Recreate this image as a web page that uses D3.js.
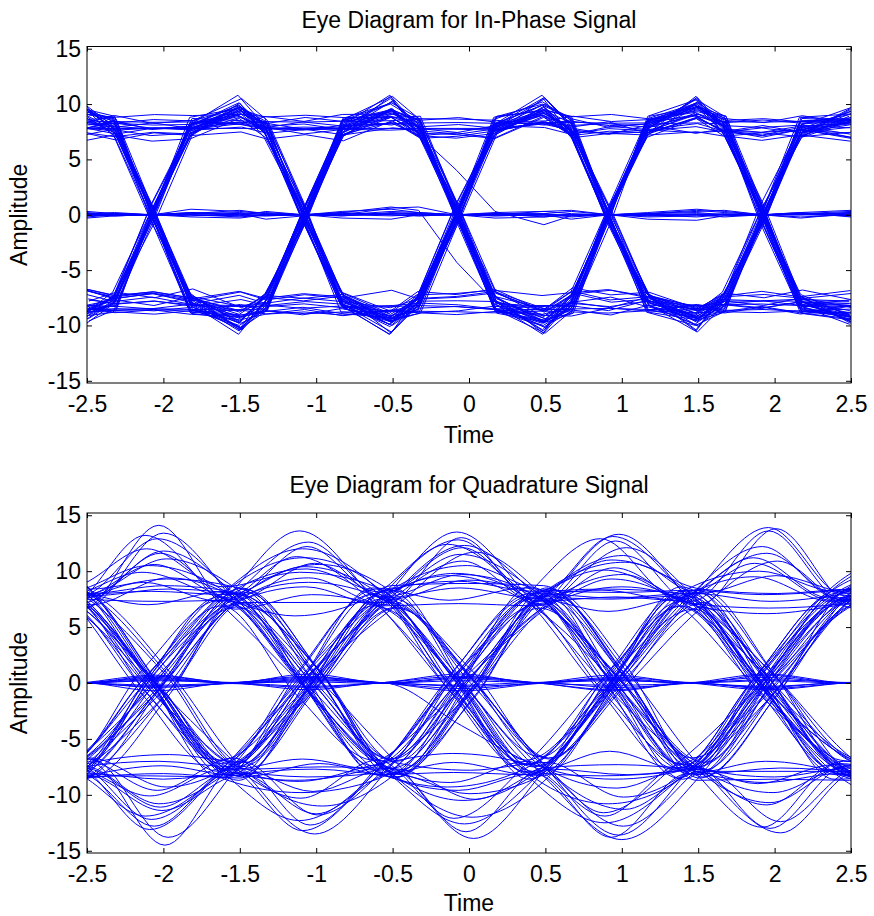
<!DOCTYPE html>
<html>
<head>
<meta charset="utf-8">
<script src="https://cdn.jsdelivr.net/npm/d3@7"></script>
<style>
body { margin: 0; background: #fff; }
text { font-family: "Liberation Sans", Arial, sans-serif; fill: #000; }
</style>
</head>
<body>
<svg id="figure"></svg>
<script>
// ---- tick labels ----
var timeTicks = [-2.5, -2, -1.5, -1, -0.5, 0, 0.5, 1, 1.5, 2, 2.5];
var ampTicks = [-15, -10, -5, 0, 5, 10, 15];

// ---- in-phase: sample times (crossing, knees, symbol peaks) ----
var timeI = [-2.5, -2.32, -2.07, -1.82, -1.5, -1.33, -1.08, -0.83, -0.51, -0.33, -0.08,
             0.17, 0.49, 0.67, 0.92, 1.17, 1.49, 1.67, 1.92, 2.17, 2.5];

// symbols at the 6 peak times (-2.5, -1.5, -0.51, 0.49, 1.49, 2.5), one string per trace
var iSymbols = ["+-+-+-", "-+-+-+", "++--++", "--++--", "+--+-+", "-++-+-", "+-++-+", "-+--+-",
                "++-+--", "--+-++", "+-+--+", "-+-++-", "+++-+-", "---+-+", "+--++-", "-++--+",
                "++-++-", "--+--+", "+-+-++", "-+-+--", "+++---", "---+++", "+-+++-", "-+---+",
                "++-+-+", "--+-+-", "+--+--", "-++-++", "+-+-+-", "-+-+-+", "++++-+", "----+-",
                "+-++++", "-+----", "++-+++", "--+---",
                "+-++--", "-+--++", "++-+-+", "--+-+-", "+-+-++", "-+-+--", "+++--+", "---++-",
                "+--+++", "-++---", "++--+-", "--++-+", "+-+++-", "-+-+++", "++-+-+", "--+-+-",
                "+--+-+", "-++-+-", "+-++-+", "-+--+-", "+++-++", "---+--", "++--++", "--++--",
                "+-+--+", "-+-++-", "+--++-", "-++--+", "++++--", "----++", "+-+-+-", "-+-+-+",
                "++-++-", "--+--+", "+---+-", "-+++-+"];
// level of the flat +/-8 band, height of the overshoot peak, offset at the zero crossing, ripple weight
var iBand = [8.1, 7.6, 8.4, 7.3, 8.8, 7.9, 7.1, 8.3, 7.7, 8.6, 7.4, 8.0, 8.9, 7.2, 8.2, 7.8, 7.5, 8.5,
             8.0, 7.3, 8.7, 7.6, 8.3, 7.0, 8.1, 7.9, 8.6, 7.4, 7.8, 8.2, 7.5, 8.4, 7.7, 8.8, 7.2, 8.0,
             7.2, 8.5, 7.9, 8.7, 7.4, 8.1, 7.0, 8.9, 7.6, 8.3, 7.8, 7.1, 8.6, 7.5, 8.2, 7.3, 8.8, 7.7,
             8.0, 7.2, 8.4, 7.9, 7.0, 8.6, 7.6, 8.1, 7.4, 8.7, 7.8, 7.3, 8.5, 7.5, 8.2, 7.1, 8.9, 7.7];
var iPeak = [10.2, 9.6, 10.6, 9.3, 10.0, 9.8, 10.4, 9.1, 9.9, 10.7, 9.4, 10.1, 9.7, 10.5, 9.2, 10.3, 9.9, 9.5,
             10.8, 9.6, 10.0, 9.3, 10.4, 9.8, 10.6, 9.1, 10.2, 9.7, 10.5, 9.4, 10.1, 9.9, 10.3, 9.6, 10.7, 9.2,
             9.8, 10.5, 9.2, 10.1, 9.6, 10.8, 9.4, 10.3, 9.9, 9.1, 10.6, 9.7, 10.2, 9.3, 10.0, 10.7, 9.5, 10.4,
             9.2, 10.1, 9.8, 10.5, 9.6, 9.0, 10.3, 9.9, 10.6, 9.4, 10.2, 9.7, 10.0, 9.3, 10.8, 9.6, 10.4, 9.1];
var iSkew = [0.3, -0.5, 0.8, -0.2, 0.0, 0.6, -0.8, 0.4, -0.4, 0.9, -0.6, 0.1, 0.5, -0.9, 0.2, -0.1, 0.7, -0.3,
             0.4, -0.7, 0.0, 0.6, -0.5, 0.3, -0.2, 0.8, -0.6, 0.1, 0.5, -0.4, 0.2, -0.8, 0.7, -0.1, 0.3, -0.3,
             -0.4, 0.7, 0.1, -0.8, 0.5, -0.2, 0.9, -0.6, 0.3, -0.1, 0.6, -0.9, 0.2, 0.8, -0.5, 0.0, -0.3, 0.4,
             -0.7, 0.1, 0.6, -0.4, 0.8, -0.2, 0.3, -0.6, 0.0, 0.5, -0.8, 0.7, -0.1, 0.4, -0.5, 0.2, -0.3, 0.9];
var iWob = [1.0, -0.6, 0.4, -1.0, 0.8, -0.2, 0.6, -0.8, 0.2, -0.4, 1.0, -1.0, 0.3, 0.7, -0.5, 0.9, -0.7, 0.1,
            -0.3, 0.5, -0.9, 0.8, -0.1, 0.6, -0.6, 0.4, -0.8, 1.0, -0.4, 0.2, 0.7, -0.5, 0.9, -0.2, 0.5, -1.0,
            -0.7, 0.9, -0.3, 0.5, -1.0, 0.2, 0.8, -0.4, 0.6, -0.9, 0.1, 0.7, -0.6, 0.3, -0.2, 1.0, -0.8, 0.4,
            -0.5, 0.9, -0.1, 0.6, -0.7, 0.2, 1.0, -0.3, 0.5, -0.9, 0.0, 0.8, -0.6, 0.3, -1.0, 0.7, -0.4, 0.1];
// timing offset of each trace
var iJitter = [0.008, -0.012, 0.004, 0.012, -0.008, 0.000, -0.004, 0.012, -0.012, 0.008, 0.004, -0.008,
               0.012, -0.004, 0.000, 0.008, -0.012, 0.004, -0.008, 0.012, 0.000, -0.004, 0.008, -0.012,
               0.004, 0.012, -0.008, 0.000, -0.004, 0.008, 0.012, -0.012, 0.004, -0.008, 0.000, 0.008,
               -0.004, 0.012, -0.008, 0.004, 0.000, -0.012, 0.008, 0.012, -0.004, -0.008, 0.004, 0.000,
               0.012, -0.012, 0.008, -0.004, 0.004, -0.008, 0.012, 0.000, -0.012, 0.008, -0.004, 0.004,
               0.012, -0.008, 0.000, 0.008, -0.012, 0.004, -0.004, 0.012, -0.008, 0.008, 0.000, -0.012];
// ripple of the +/-8 bands at each sample time (two shapes seen in the bands)
var bandRipple = [0.4, -0.3, 0.5, 0.2, 0.6, -0.2, 0.3, -0.4, 0.5, 0.1, -0.3,
                  0.4, 0.2, -0.5, 0.3, 0.0, 0.6, -0.2, 0.4, -0.3, 0.5];
var bandRipple2 = [-0.5, 0.3, -0.2, 0.6, -0.4, 0.5, -0.1, 0.3, -0.6, 0.4, 0.2,
                   -0.3, 0.5, 0.1, -0.4, 0.6, -0.3, 0.2, -0.2, 0.5, -0.4];

// traces that stay on the zero level, then the two stray ones near t = -0.3
var iZero = [
    [0.3, 0.1, 0, 0.5, 0.3, 0.1, 0, -0.1, 0.2, 0.1, 0, 0.1, -0.2, 0, 0, 0.1, 0.4, 0.2, 0, 0.1, 0.3],
    [-0.2, 0, 0, 0.2, 0.1, -0.4, -0.1, 0, 0.6, 0.7, 0, -0.1, 0, 0, 0, -0.1, 0, 0, 0, 0.1, -0.1],
    [0.1, -0.1, 0, 0, -0.2, 0, 0, -0.3, -0.4, 0, 0, 0.1, 0.1, -0.2, 0, -0.4, -0.5, -0.1, 0, 0, 0.2],
    [0, 0.1, 0, -0.1, 0.1, 0.2, 0, 0.1, 0, -0.1, 0, 0, 0.3, 0.4, 0, 0.1, 0.3, 0.4, 0, -0.2, 0],
    [-0.1, 0, 0, 0, -0.1, -0.1, 0, 0, -0.1, 0, 0, -0.1, 0, 0, 0, 0, 0.1, 0, 0, 0, -0.1],
    [0.2, 0, 0, 0.1, 0.2, 0, 0, 0.1, 0.1, 0.1, 0, 0, -0.1, -0.1, 0, 0, 0, 0.1, 0, 0.1, 0.1],
    [0, 0.1, 0, 0.2, 0, -0.1, 0, 0, 0.3, 0.2, 0, 0, 0.1, 0.3, 0, 0, -0.2, 0, 0, 0, 0.2],
    [-0.3, -0.1, 0, 0, -0.1, 0.3, 0, 0.2, 0, -0.1, 0, -0.3, -0.2, 0, 0, 0.2, 0.5, 0.3, 0, 0.2, -0.2],
    [0.1, 0.2, 0, -0.2, -0.3, 0, 0, -0.1, 0.1, 0, 0, 0.2, 0.3, 0.1, 0, -0.1, 0, -0.2, 0, -0.3, 0.1],
    [0, -0.1, 0, 0.1, 0.4, 0.1, 0, 0.3, 0.5, 0.2, 0, 0.1, 0, -0.4, 0, -0.2, -0.1, 0, 0, 0.2, 0.4],
    [8.2, 7.9, 8.3, 7.8, 8.4, 8.0, 8.2, 7.7, 8.3, 7.2, 4.0, 0.3, -0.9, -0.1, 0, 0.1, 0.2, 0, 0, 0.1, 0],
    [0.1, 0, 0, 0.1, 0, 0, 0, 0.2, 0.7, 0.4, -4.3, -7.9, -8.6, -8.0, -8.3, -7.8, -8.2, -8.1, -8.4, -7.9, -8.0]
];

// ---- quadrature: symbol times (odd index) and mid points (even index) ----
var timeQ = [-3.05, -2.55, -2.05, -1.55, -1.05, -0.55, -0.05, 0.45, 0.95, 1.45, 1.95, 2.45, 2.95];

var qSymbols = ["++-+--", "+-++-+", "-+--++", "--+-+-", "+++--+", "-++-+-", "+--+++", "-+-+--",
                "++++-+", "---+-+", "+-+--+", "-++++-", "+--+-+", "--++-+", "++--++", "-+-+++",
                "+-+-+-", "---++-", "++-++-", "-+++--", "+-----", "--+--+", "+++-+-", "-+--+-",
                "++-+-+", "--++--", "+-++--", "-+-++-", "+--+--", "-++-++", "++--+-", "---+++",
                "+-+++-", "-+-+-+", "+++-++", "-----+", "+-++++", "-++--+", "--+-++", "+--++-",
                "+-+-++", "-+-+--", "++---+", "--+++-", "-+++-+", "+---+-", "++-+++", "--+---",
                "+-++-+", "-+--+-", "+++++-", "----+-", "+-+--+", "-+-++-", "++--+-", "--++-+",
                "+-+++-", "-+---+", "+++-+-", "---+-+", "++-+-+", "--+-+-", "+--+--", "-++-++",
                "+-----", "-+++++", "++--++", "--++--", "+-+-+-", "-+-+-+", "+++--+", "---++-",
                "+--+++", "-++---", "++-++-", "--+--+", "+-++++", "-+----", "++++-+", "+--+-+"];
var qLevel = [7.6, 7.2, 8.0, 6.8, 7.9, 7.3, 8.4, 7.0, 7.7, 8.2, 7.5, 6.9, 8.6, 7.1, 7.8, 7.4, 8.3, 7.6, 7.0, 8.1,
              7.3, 8.5, 6.6, 7.7, 8.0, 7.2, 8.7, 6.9, 7.9, 7.4, 8.2, 7.0, 7.8, 8.4, 7.3, 7.6, 7.1, 8.3, 6.7, 8.0,
              7.5, 8.1, 7.0, 8.3, 7.7, 6.9, 8.0, 7.4, 8.5, 7.2, 7.6, 8.1, 7.9, 6.8, 8.4, 7.3, 8.2, 7.1, 8.6, 6.7,
              7.8, 8.0, 7.4, 8.3, 7.7, 7.0, 8.2, 7.5, 6.9, 8.5, 7.2, 8.0, 7.6, 7.9, 6.8, 8.4, 7.3, 8.1, 7.5, 7.8];
// timing offset of each trace
var qJitter = [0.05, -0.07, 0.02, 0.08, -0.03, -0.06, 0.07, 0.00, -0.09, 0.04, 0.06, -0.02, -0.05, 0.09, 0.01, -0.08,
               0.03, -0.04, 0.08, -0.01, -0.06, 0.05, 0.02, -0.09, 0.07, -0.03, 0.04, -0.07, 0.09, 0.00, -0.05, 0.06,
               -0.02, 0.08, -0.08, 0.03, 0.01, -0.04, 0.07, -0.06, -0.03, 0.09, -0.07, 0.04, 0.00, -0.05, 0.06, 0.02,
               -0.08, 0.08, -0.01, 0.05, -0.09, 0.03, 0.07, -0.04, -0.02, 0.06, -0.06, 0.01, 0.08, -0.07, 0.04, -0.03,
               0.09, 0.00, -0.05, 0.02, -0.08, 0.06, 0.03, -0.01, -0.09, 0.07, 0.05, -0.06, 0.01, -0.02, 0.04, -0.04];
// value at each mid point between symbols (the arcs and the zero crossings)
var qMid = [
    [9.5, 11.8, 0.6, -0.4, 0.9, -8.4, -9.0], [8.3, -0.7, 0.3, 9.6, 1.1, -0.5, 8.8],
    [-10.2, 0.4, -1.0, -12.6, 0.2, 7.3, 9.4], [-7.9, -13.8, 0.9, -0.3, 0.5, -1.2, -8.0],
    [11.0, 8.2, 10.4, 0.1, -6.1, 0.8, 9.2], [-8.6, 0.7, 13.6, -0.9, 0.4, 1.3, -9.5],
    [12.3, -1.1, -7.2, 0.6, 10.8, 8.0, 7.6], [-9.1, 0.2, -0.6, 1.4, -0.2, -10.9, -8.7],
    [7.4, 9.9, 6.0, 12.4, -0.8, 0.3, 10.1], [-8.8, -11.4, -7.7, 1.0, -1.3, 0.6, 8.1],
    [10.6, 0.8, -0.2, 0.5, -12.8, -0.7, 9.7], [-11.5, -0.4, 8.6, 7.1, 9.3, 0.9, -7.4],
    [8.9, 0.3, -9.8, -1.2, 0.7, -0.1, 11.3], [-9.4, -6.4, 1.2, 11.7, -0.5, 0.9, 8.5],
    [8.0, 12.9, -0.9, -10.5, 0.1, 13.9, 9.0], [-7.6, 1.3, 0.5, -0.8, 8.3, 10.7, 8.2],
    [9.8, -0.2, 1.0, -0.6, 0.4, -1.4, -10.4], [-12.4, -10.1, -13.2, 0.7, 6.4, -0.3, -8.9],
    [9.1, 9.4, -0.5, 0.9, 12.1, 0.2, -9.8], [-8.2, -1.0, 10.2, 11.5, 0.6, -7.0, -10.6],
    [8.7, 0.9, -8.8, -6.3, -11.9, -9.0, -7.9], [-10.9, -8.1, 0.4, -0.7, -14.0, 1.1, 9.3],
    [10.3, 14.1, 7.9, -0.3, 1.2, -0.9, -8.3], [-9.6, -0.3, 0.8, -9.3, -1.4, 0.5, -11.2],
    [7.8, 11.1, 1.1, -0.4, -1.0, 0.7, 9.9], [-8.0, -12.2, 0.1, 13.5, -0.6, -12.9, -9.2],
    [11.8, -0.8, 0.6, 8.9, 1.3, -8.6, -8.1], [-7.3, 0.5, -1.2, 0.2, 10.1, -0.4, -10.0],
    [9.4, 1.0, -11.0, -0.1, 0.9, -13.4, -9.6], [-10.7, -0.6, 9.0, 0.3, -1.1, 11.6, 8.6],
    [8.5, 7.0, 0.7, -8.0, 0.8, -0.2, -7.7], [-9.9, -14.5, -11.8, -0.9, 9.7, 13.8, 10.4],
    [10.0, 0.1, -1.3, 12.8, 7.5, 1.0, -8.5], [-8.7, -1.2, 0.9, -0.5, 1.5, -0.8, 10.8],
    [9.2, 9.0, 11.3, 0.0, -0.7, 9.5, 7.7], [-8.4, -11.1, -9.7, -13.3, -7.3, 0.4, 9.0],
    [8.1, -0.1, 0.8, 10.9, 12.7, 6.7, 8.4], [-9.3, 0.6, 12.0, -0.8, -10.8, 1.2, 8.7],
    [-12.0, -9.3, -0.2, 1.1, -0.3, 10.9, 9.6], [9.0, -0.9, -12.3, 0.9, 8.4, -0.6, -9.1],
    [9.2, 0.5, -0.9, 0.3, -0.4, 12.2, 8.6], [-11.0, -0.6, 0.8, -1.1, 0.2, -7.6, -9.3],
    [10.7, 13.2, 0.2, -8.9, -11.6, -0.5, 8.4], [-9.8, -7.4, -0.7, 10.5, 8.1, 0.9, -8.8],
    [-8.1, 1.0, 12.6, 9.7, -0.2, 0.6, 9.5], [8.6, -0.4, -10.3, -12.1, 0.8, -1.0, -9.9],
    [12.8, 8.7, 0.4, -0.9, 11.4, 9.6, 7.9], [-7.7, -10.8, -0.3, 1.2, -9.4, -13.0, -10.1],
    [9.7, 1.1, -0.4, 7.4, 0.5, 0.0, 11.9], [-10.5, -0.8, 0.2, -13.9, 0.9, -0.6, -8.4],
    [8.9, 10.6, 12.2, 8.5, 13.1, -0.2, -9.0], [-9.0, -8.6, -11.7, -9.9, 0.3, -0.9, -10.6],
    [11.4, -1.0, 0.7, -0.5, -8.3, 0.3, 8.9], [-8.5, 0.9, -0.1, 0.6, 13.3, -1.1, -9.2],
    [10.1, 9.3, -0.6, -12.0, 1.0, 0.4, -10.2], [-8.9, -13.1, 0.5, 9.8, -1.3, 0.2, 9.1],
    [8.4, 0.2, -0.8, 9.1, 11.0, -0.4, -8.6], [-12.5, -0.5, 1.3, -7.8, -10.2, 0.8, 9.8],
    [9.5, 12.0, 9.9, 0.5, -0.6, 1.1, -7.9], [-10.4, -9.6, -12.7, -0.4, 0.7, -0.9, 8.3],
    [8.8, 8.4, 0.9, -1.4, 0.3, -0.3, 10.9], [-9.7, -11.9, -0.2, 0.8, -1.0, 0.6, -9.4],
    [10.9, -0.7, -13.5, 1.2, -0.5, -9.8, -8.3], [-8.3, 0.4, 11.2, -1.2, 0.6, 7.9, 9.3],
    [9.9, 0.6, -7.5, -10.4, -8.2, -12.4, -9.1], [-9.2, -0.9, 9.4, 13.0, 10.3, 6.2, 8.0],
    [7.9, 10.5, 1.2, -7.1, -0.6, 10.0, 9.7], [-11.3, -7.0, -0.5, 12.3, 0.7, -10.7, -8.0],
    [8.2, 0.7, -1.3, 1.1, -0.9, 0.2, -9.7], [-10.0, 0.1, 0.6, -0.7, 1.0, -1.2, 8.2],
    [12.4, 11.6, 7.2, 0.9, -13.6, -0.4, 10.2], [-8.6, -12.8, -8.4, 0.3, 7.6, 0.8, -9.5],
    [9.0, 1.2, -8.7, -0.3, 12.9, 11.2, 8.8], [-11.8, 0.3, 10.6, 0.5, -11.3, -7.9, -9.6],
    [8.0, 13.4, -1.0, 0.4, 8.6, 0.6, -8.2], [-9.5, -8.3, 1.0, -0.2, -12.5, -0.8, 10.6],
    [10.4, -1.3, 0.9, 12.1, 7.7, 13.6, 9.4], [-8.0, 1.2, -0.4, -9.6, -13.8, -8.9, -10.8],
    [11.2, 7.3, 10.7, 9.2, 0.2, -1.0, 9.0], [8.7, -0.2, -6.8, 1.3, -0.7, 0.9, 11.6]
];
// zero-level traces and one stray trace, given on the full timeQ grid
var qZero = [
    [0.5, 0, 0.6, 0.05, 0.4, 0, -0.5, 0, 0.3, -0.05, 0.7, 0, 0.4],
    [-0.4, 0.05, -0.7, 0, -0.3, 0.05, 0.6, 0, -0.6, 0, -0.4, 0.05, -0.3],
    [0.2, -0.05, 0.3, 0, 0.8, 0, 0.2, 0.05, 0.5, 0, -0.6, 0, 0.5],
    [-0.6, 0, -0.2, -0.05, -0.6, 0, -0.3, 0, 0.7, 0.05, 0.3, 0, -0.5],
    [0.3, 0, 0.5, 0, 0.1, -0.05, 0.4, 0, -0.2, 0, 0.5, 0.05, 0.2],
    [-0.2, 0.05, -0.4, 0, 0.5, 0, -0.7, -0.05, 0.2, 0, -0.3, 0, -0.6],
    [0.4, 0, 0.2, 0, -0.4, 0.05, 0.8, 0, 0.4, 0, 0.2, 0, 0.7],
    [-0.3, 0, 0.7, 0, 0.3, 0, -0.2, 0.05, -0.4, 0, 0.8, 0, -0.2],
    [0.6, 0.05, -0.3, 0, 0.6, 0, 0.5, 0, -0.7, 0, -0.5, 0, 0.3],
    [0.3, 0, 0.4, 0, 0.2, 0, -3.8, -7.4, -8.6, -7.6, 0.3, 7.2, 8.8]
];

var fullWidth = 874, fullHeight = 916;
var xLeft = 87, xRight = 851;

var svg = d3.select("#figure").attr("width", fullWidth).attr("height", fullHeight);

function pairUp(times, vals, shift) {
    return vals.map(function (v, i) { return [times[i] + shift, v]; });
}

// in-phase traces from the symbol strings
var tracesI = iSymbols.map(function (str, n) {
    var s = str.split("").map(function (ch) { return ch === "+" ? 1 : -1; });
    var ripple = n % 2 ? bandRipple2 : bandRipple;
    var vals = timeI.map(function (t, i) {
        var k = Math.floor(i / 4), pos = i % 4;
        var band = iBand[n] + iWob[n] * ripple[i];
        if (pos === 0) {
            var flips = (k > 0 && s[k - 1] !== s[k] ? 1 : 0) + (k < 5 && s[k + 1] !== s[k] ? 1 : 0);
            if (flips === 2) return s[k] * iPeak[n];
            if (flips === 1) return s[k] * (iPeak[n] - 0.9);
            return s[k] * band;
        }
        var a = s[k], b = s[k + 1];
        if (a === b) return a * band;
        if (pos === 1) return a * iBand[n];
        if (pos === 2) return iSkew[n];
        return b * iBand[n];
    });
    return pairUp(timeI, vals, iJitter[n]);
}).concat(iZero.map(function (v) { return pairUp(timeI, v, 0); }));

var tracesQ = qSymbols.map(function (str, n) {
    var s = str.split("").map(function (ch) { return ch === "+" ? 1 : -1; });
    var vals = timeQ.map(function (t, i) {
        if (i % 2 === 0) return qMid[n][i / 2];
        return s[(i - 1) / 2] * qLevel[n];
    });
    return pairUp(timeQ, vals, qJitter[n]);
}).concat(qZero.map(function (v) { return pairUp(timeQ, v, 0); }));

var panels = [
    {title: "Eye Diagram for In-Phase Signal", top: 46.5, bottom: 383, traces: tracesI,
     curve: d3.curveLinear, titleY: 28, labelY: 443},
    {title: "Eye Diagram for Quadrature Signal", top: 513, bottom: 853, traces: tracesQ,
     curve: d3.curveMonotoneX, titleY: 493, labelY: 911}
];

panels.forEach(function (p, idx) {
    var x = d3.scaleLinear().domain([-2.5, 2.5]).range([xLeft, xRight]);
    var y = d3.scaleLinear().domain([-15.2, 15.2]).range([p.bottom, p.top]);
    var g = svg.append("g");

    g.append("clipPath").attr("id", "clip" + idx)
        .append("rect").attr("x", xLeft).attr("y", p.top)
        .attr("width", xRight - xLeft).attr("height", p.bottom - p.top);

    var line = d3.line()
        .x(function (d) { return x(d[0]); })
        .y(function (d) { return y(d[1]); })
        .curve(p.curve);

    g.append("g").attr("clip-path", "url(#clip" + idx + ")")
        .selectAll("path").data(p.traces).enter().append("path")
        .attr("d", line)
        .attr("fill", "none").attr("stroke", "#0000ff").attr("stroke-width", 1);

    var fmt = function (d) { return String(d); };
    var xAxis = d3.axisBottom(x).tickValues(timeTicks).tickFormat(fmt).tickSizeInner(-5).tickSizeOuter(0).tickPadding(13);
    var yAxis = d3.axisLeft(y).tickValues(ampTicks).tickFormat(fmt).tickSizeInner(-5).tickSizeOuter(0).tickPadding(6);
    var xTop = d3.axisTop(x).tickValues(timeTicks).tickFormat("").tickSizeInner(-5).tickSizeOuter(0);
    var yRight = d3.axisRight(y).tickValues(ampTicks).tickFormat("").tickSizeInner(-5).tickSizeOuter(0);

    var axes = [
        g.append("g").attr("transform", "translate(0," + p.bottom + ")").call(xAxis),
        g.append("g").attr("transform", "translate(" + xLeft + ",0)").call(yAxis),
        g.append("g").attr("transform", "translate(0," + p.top + ")").call(xTop),
        g.append("g").attr("transform", "translate(" + xRight + ",0)").call(yRight)
    ];
    axes.forEach(function (a) {
        a.select(".domain").remove();
        a.selectAll("text").attr("font-size", 23).attr("font-family", "Liberation Sans, Arial, sans-serif");
    });

    g.append("rect").attr("x", xLeft).attr("y", p.top)
        .attr("width", xRight - xLeft).attr("height", p.bottom - p.top)
        .attr("fill", "none").attr("stroke", "#000").attr("stroke-width", 1);

    g.append("text").text(p.title)
        .attr("x", (xLeft + xRight) / 2).attr("y", p.titleY)
        .attr("text-anchor", "middle").attr("font-size", 23);

    g.append("text").text("Time")
        .attr("x", (xLeft + xRight) / 2).attr("y", p.labelY)
        .attr("text-anchor", "middle").attr("font-size", 23);

    g.append("text").text("Amplitude")
        .attr("transform", "translate(27," + (p.top + p.bottom) / 2 + ") rotate(-90)")
        .attr("text-anchor", "middle").attr("font-size", 23);
});
</script>
</body>
</html>
